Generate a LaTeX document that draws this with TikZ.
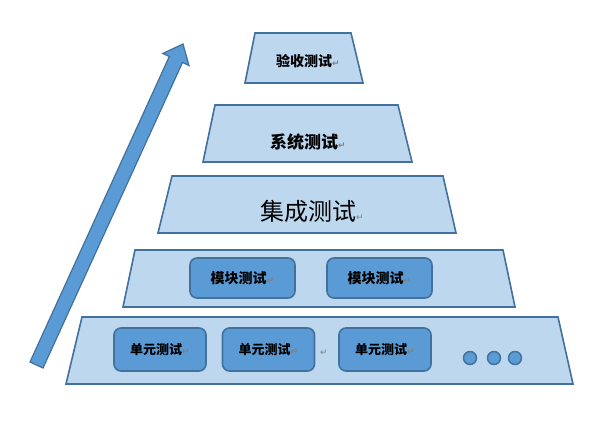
\documentclass[tikz,border=0pt]{standalone}
\usepackage{fontspec}
\newfontfamily\cjk{Noto Sans CJK SC}
\newfontfamily\markfont{DejaVu Sans}
\usetikzlibrary{positioning}

\definecolor{layerfill}{HTML}{BDD7EE}
\definecolor{boxfill}{HTML}{5B9BD5}
\definecolor{edgeblue}{HTML}{41719C}

\newcommand{\ret}{{\markfont\color{gray}\fontsize{9}{9}\selectfont ↵}}
\newcommand{\fsz}[1]{\fontsize{#1}{#1}\selectfont}

\tikzset{x=1pt, y=-1pt,
    layer/.style={draw=edgeblue, fill=layerfill, line width=1.6pt, line join=miter},
    testbox/.style={draw=edgeblue, fill=boxfill, line width=1.6pt, rounded corners=7pt,
        inner sep=0pt, font=\cjk\bfseries},
    unitbox/.style={testbox, minimum width=92pt, minimum height=43pt, font=\cjk\bfseries\fsz{13}},
    modbox/.style={testbox, minimum width=105pt, minimum height=40pt, font=\cjk\bfseries\fsz{14}},
    dot/.style={draw=edgeblue, fill=boxfill, line width=1.4pt}}

\begin{document}
\begin{tikzpicture}
    \useasboundingbox (0,0) rectangle (616,430);
    % the arrow on the left
    \draw[edgeblue, fill=boxfill, line width=1.2pt, line join=miter]
        (30,362) -- (169.3,56.5) -- (162.8,53.5) -- (183,44)
        -- (189,65.5) -- (182.5,62.5) -- (43,368) -- cycle;
    % the layers, top to bottom
    \foreach \tl/\tr/\bl/\br/\ya/\yb in {255/351/245/363/33/83,
                                        215/398/203/412/105/162,
                                        172/443/158/456/176/233,
                                        135/503/123/515/250/307,
                                        82/558/66/573/317/384}
        \draw[layer] (\tl,\ya) -- (\tr,\ya) -- (\br,\yb) -- (\bl,\yb) -- cycle;
    \node[font=\cjk\bfseries\fsz{14}] (accept) at (308,61) {验收测试\ret};
    \node[font=\cjk\bfseries\fsz{17}] (system) at (308,142) {系统测试\ret};
    \node[font=\cjk\fsz{24}] (integ) at (312,211) {集成测试\ret};
    % modules
    \node[modbox] (mod1) at (242.5,278) {模块测试\ret};
    \node[modbox] (mod2) at (379.5,278) {模块测试\ret};
    % units
    \node[unitbox] (unit1) at (160,349.5) {单元测试\ret};
    \node[unitbox] (unit2) at (268.5,349.5) {单元测试\ret};
    \node[unitbox] (unit3) at (385,349.5) {单元测试\ret};
    \node (gap) at (324,353) {\ret};
    \foreach \x in {470,494,515}
        \draw[dot] (\x,358) circle (6.5);
\end{tikzpicture}
\end{document}
